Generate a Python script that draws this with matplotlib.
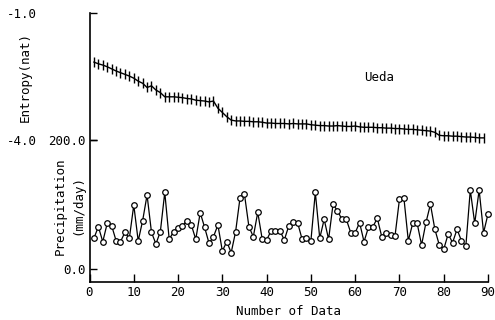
import matplotlib
matplotlib.use('agg')
import matplotlib.pyplot as plt

# entropy (nat) per data number 1..89
entropy = [-2.16, -2.20, -2.23, -2.27, -2.32, -2.37, -2.41, -2.45, -2.49, -2.54,
           -2.61, -2.66, -2.76, -2.72, -2.82, -2.88, -2.98, -2.98, -2.98, -2.99,
           -3.00, -3.02, -3.03, -3.06, -3.07, -3.08, -3.10, -3.08, -3.25, -3.35,
           -3.45, -3.53, -3.55, -3.55, -3.56, -3.56, -3.57, -3.57, -3.58, -3.60,
           -3.60, -3.61, -3.61, -3.61, -3.62, -3.61, -3.62, -3.62, -3.62, -3.64,
           -3.65, -3.66, -3.66, -3.67, -3.67, -3.66, -3.67, -3.68, -3.68, -3.67,
           -3.69, -3.70, -3.70, -3.70, -3.71, -3.71, -3.72, -3.72, -3.73, -3.73,
           -3.74, -3.75, -3.75, -3.76, -3.77, -3.78, -3.79, -3.82, -3.89, -3.90,
           -3.90, -3.91, -3.91, -3.92, -3.93, -3.93, -3.94, -3.95, -3.95]
entropy_x = list(range(1, len(entropy) + 1))

# precipitation (mm/day) per data number 1..90
precip = [47.6, 65.6, 42.3, 70.8, 67.2, 43.9, 42.3, 56.8, 47.6, 99.2,
          43.4, 74.9, 114.7, 56.8, 38.8, 57.9, 118.9, 46.0, 57.9, 63.0,
          67.2, 74.9, 68.2, 46.0, 87.3, 64.6, 39.8, 50.1, 68.2, 27.9,
          42.3, 25.3, 57.9, 110.6, 115.8, 65.6, 50.1, 87.9, 46.5, 45.0,
          58.9, 59.4, 59.4, 45.0, 66.7, 72.4, 71.8, 46.5, 47.6, 43.4,
          118.9, 47.6, 77.0, 46.0, 100.3, 90.4, 77.0, 77.0, 56.3, 56.3,
          71.8, 42.3, 64.6, 65.6, 78.6, 50.1, 56.3, 52.7, 51.2, 108.0,
          110.6, 43.9, 70.8, 70.8, 37.2, 72.4, 100.3, 61.5, 37.2, 30.5,
          54.3, 40.8, 61.5, 43.9, 35.7, 122.5, 70.8, 122.5, 56.3, 85.3]
precip_x = list(range(1, len(precip) + 1))

xticks = [0, 10, 20, 30, 40, 50, 60, 70, 80, 90]

plt.rcParams['font.family'] = ['DejaVu Sans Mono']
plt.rcParams['font.size'] = 9

fig = plt.figure(figsize=(4.95, 3.2), dpi=100)
ax = fig.add_axes([89.5 / 495, 38 / 320, 398.5 / 495, 269 / 320])

ax.plot(precip_x, precip, color='black', lw=0.9, marker='o', ms=4,
        mfc='white', mec='black', mew=0.9, zorder=3, clip_on=False)
ax.set_xlim(0, 90)
ax.set_ylim(-20.2, 397)
ax.set_xticks(xticks)
ax.set_yticks([0, 200])
ax.set_yticklabels(['0.0', '200.0'])
ax.tick_params(axis='x', direction='in', length=6, width=1, pad=3)
ax.tick_params(axis='y', direction='in', length=5, width=1, pad=3)
ax.spines['top'].set_visible(False)
ax.spines['right'].set_visible(False)
ax.spines['left'].set_linewidth(1.2)
ax.spines['bottom'].set_linewidth(1.2)
ax.set_xlabel('Number of Data', labelpad=4)

# entropy on its own scale, labels further left
ax2 = ax.twinx()
ax2.plot(entropy_x, entropy, color='black', lw=1.0, marker='|', ms=7.5, mew=1.0,
         clip_on=False)
ax2.set_ylim(-7.355, -1.0)
ax2.yaxis.set_ticks_position('left')
ax2.set_yticks([-1.0, -4.0])
ax2.set_yticklabels(['-1.0', '-4.0'])
ax2.tick_params(axis='y', direction='in', length=5, width=1, pad=38)
for s in ['top', 'right', 'left', 'bottom']:
    ax2.spines[s].set_visible(False)

ax2.text(0.69, 0.76, 'Ueda', transform=ax.transAxes, ha='left', va='center')

fig.text(25 / 495, 1 - 77 / 320, 'Entropy(nat)', rotation=90,
         ha='center', va='center')
fig.text(60 / 495, 1 - 206 / 320, 'Precipitation', rotation=90,
         ha='center', va='center')
fig.text(78 / 495, 1 - 205 / 320, '(mm/day)', rotation=90,
         ha='center', va='center')

fig.savefig('out.png', dpi=100)
